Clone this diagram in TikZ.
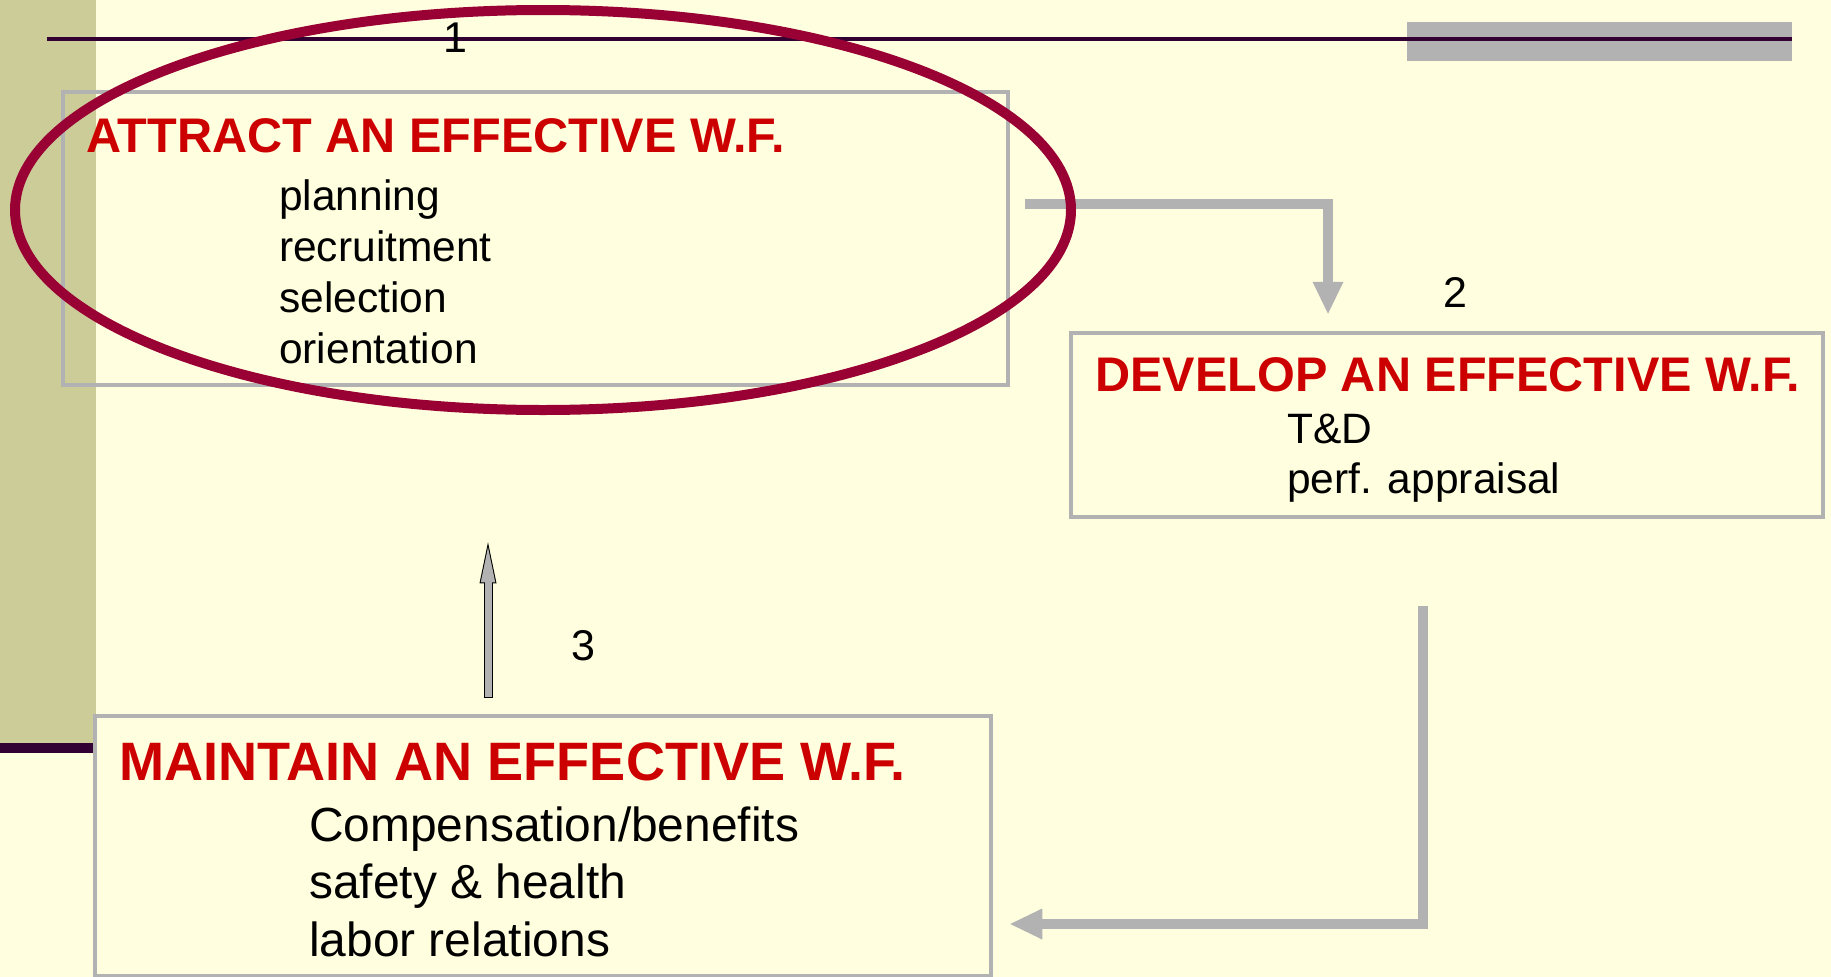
\documentclass[tikz,border=0pt]{standalone}
\usepackage{fontspec}
\setmainfont{Liberation Sans}
\usetikzlibrary{arrows.meta,calc}
\definecolor{slideBg}{RGB}{255,255,224}
\definecolor{barTan}{RGB}{204,204,153}
\definecolor{linePurple}{RGB}{51,0,51}
\definecolor{boxGray}{RGB}{178,178,178}
\definecolor{wfRed}{RGB}{204,0,0}
\definecolor{ovalRed}{RGB}{153,0,51}

\begin{document}
\begin{tikzpicture}[x=1pt,y=-1pt,
  box/.style={rectangle,draw=boxGray,line width=4.5pt,inner sep=0pt},
  head/.style={anchor=base west,inner sep=0pt,text=wfRed,
               font=\fontsize{48.6}{58}\selectfont\bfseries},
  items/.style={anchor=base west,inner sep=0pt,align=left,
                font=\fontsize{42.5}{51}\selectfont},
  num/.style={anchor=base,inner sep=0pt,font=\fontsize{43}{52}\selectfont},
  arr/.style={draw=boxGray,line width=10pt,
              -{Triangle[length=32pt,width=31pt,line width=0pt]}}
]
  \fill[slideBg] (0,0) rectangle (1831,977);
  \useasboundingbox (0,0) rectangle (1831,977);
  \fill[barTan] (0,0) rectangle (96,743);
  \fill[boxGray] (1407,22) rectangle (1792,61);
  \draw[linePurple,line width=4pt] (47,38.5) -- (1792,38.5);
  \draw[linePurple,line width=10pt] (0,748) -- (93,748);

  \node[box,minimum width=945pt,minimum height=293pt] (attract) at (535.5,238.5) {};
  \node[box,minimum width=752pt,minimum height=184pt] (develop) at (1447,425) {};
  \node[box,minimum width=896pt,minimum height=260pt] (maintain) at (543,846) {};

  \node[head] (attractT) at (86,152) {ATTRACT AN EFFECTIVE W.F.};
  \node[items] (attractL) at (279,363) {planning\\recruitment\\selection\\orientation};
  \node[head] (developT) at (1095,391) {DEVELOP AN EFFECTIVE W.F.};
  \node[items,font=\fontsize{42.5}{50}\selectfont] (developL) at (1287,493) {T\&D\\perf. appraisal};
  \node[head,font=\fontsize{54.1}{65}\selectfont\bfseries] (maintainT) at (119,780) {MAINTAIN AN EFFECTIVE W.F.};
  \node[items,font=\fontsize{47.9}{57.5}\selectfont] (maintainL) at (309,956) {Compensation/benefits\\safety \& health\\labor relations};

  \draw[arr] ($(attract.east)+(15,-34.5)$) -| ($(develop.north)+(-119,-17)$);
  \draw[arr] ($(develop.south)+(-24,87)$) |- ($(maintain.east)+(17,78)$);
  \draw[line width=9pt,black,-{Triangle[length=41pt,width=17pt,line width=0pt]}]
    ($(maintain.north)+(-55,-16)$) -- ($(attract.south)+(-47.5,155)$);
  \draw[line width=7pt,boxGray,-{Triangle[length=35pt,width=14.5pt,line width=0pt]}]
    ($(maintain.north)+(-55,-17)$) -- ($(attract.south)+(-47.5,160)$);

  \draw[ovalRed,line width=10pt] (543,210) ellipse [x radius=528, y radius=200];

  \node[num] (n1) at (455,52) {1};
  \node[num] (n2) at (1455,307) {2};
  \node[num] (n3) at (583,660) {3};
\end{tikzpicture}
\end{document}
